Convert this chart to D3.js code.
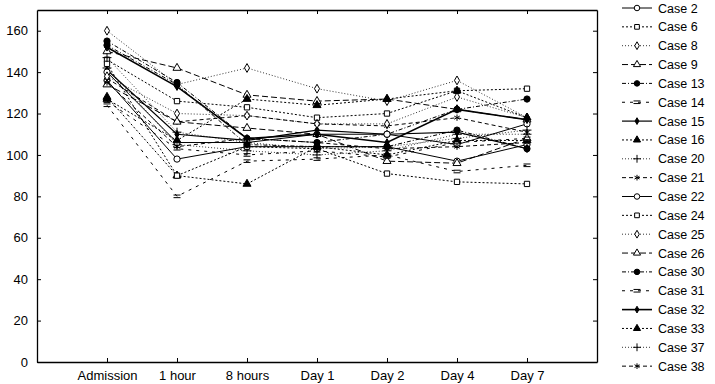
<!DOCTYPE html>
<html>
<head>
<meta charset="utf-8">
<script src="https://cdn.jsdelivr.net/npm/d3@7"></script>
<style>
  body { margin: 0; background: white; }
  text { font-family: "Liberation Sans", Arial, sans-serif; }
</style>
</head>
<body>
<script>
// categories on the x axis
const timepoints = ["Admission", "1 hour", "8 hours", "Day 1", "Day 2", "Day 4", "Day 7"]
const yTicks = [0, 20, 40, 60, 80, 100, 120, 140, 160]

// case names, same order as the legend
const cases = ["Case 2", "Case 6", "Case 8", "Case 9", "Case 13", "Case 14", "Case 15", "Case 16", "Case 20", "Case 21",
               "Case 22", "Case 24", "Case 25", "Case 26", "Case 30", "Case 31", "Case 32", "Case 33", "Case 37", "Case 38"]

// values per case
const case2  = [136, 98, 104, 104, 104, 97, 105]
const case6  = [146, 126, 123, 118, 120, 131, 132]
const case8  = [160, 134, 142, 132, 126, 136, 118]
const case9  = [150, 142, 129, 126, 127, 122, 117]
const case13 = [155, 135, 108, 106, 110, 122, 127]
const case14 = [124, 80, 97, 98, 100, 92, 95]
const case15 = [141, 110, 107, 112, 110, 111, 103]
const case16 = [128, 90, 86, 104, 100, 107, 107]
const case20 = [142, 105, 102, 100, 102, 110, 110]
const case21 = [137, 116, 119, 115, 114, 118, 111]
const case22 = [140, 106, 106, 110, 110, 105, 115]
const case24 = [144, 90, 104, 103, 91, 87, 86]
const case25 = [138, 120, 119, 115, 115, 128, 118]
const case26 = [134, 116, 113, 110, 97, 96, 108]
const case30 = [153, 134, 105, 104, 104, 112, 103]
const case31 = [126, 103, 100, 102, 99, 106, 108]
const case32 = [152, 133, 108, 110, 106, 122, 117]
const case33 = [127, 107, 127, 124, 127, 131, 118]
const case37 = [147, 111, 106, 103, 104, 108, 112]
const case38 = [135, 104, 108, 106, 103, 104, 106]

const allValues = [case2, case6, case8, case9, case13, case14, case15, case16, case20, case21,
                   case22, case24, case25, case26, case30, case31, case32, case33, case37, case38]

const w = 715
const h = 384
const padL = 37, padR = 597, padT = 10, padB = 362

// line / marker look, repeats every 10 cases
const styles = [
  {dash: null,  marker: "circle",   fill: "white", lw: 1},
  {dash: "2,2", marker: "square",   fill: "white", lw: 1},
  {dash: "1,2", marker: "diamond",  fill: "white", lw: 0.8},
  {dash: "6,3", marker: "triangle", fill: "white", lw: 1},
  {dash: "4,2,1,2", marker: "circle", fill: "black", lw: 1},
  {dash: "3,5", marker: "equal",    fill: "none",  lw: 1},
  {dash: null,  marker: "sdiamond", fill: "black", lw: 1.2},
  {dash: "2,2", marker: "triangle", fill: "black", lw: 1},
  {dash: "1,2", marker: "plus",     fill: "none",  lw: 0.8},
  {dash: "4,3", marker: "asterisk", fill: "none",  lw: 1}
]

const svg = d3.select("body")
              .append("svg")
              .attr("width", w)
              .attr("height", h)
              .style("background-color", "white")

const xScale = d3.scalePoint()
                 .domain(timepoints)
                 .range([padL, padR])
                 .padding(1)

const yScale = d3.scaleLinear()
                 .domain([0, 170])
                 .range([padB, padT])

// axes, ticks point inward and are mirrored on top / right
svg.append("g")
   .attr("transform", "translate(0," + padB + ")")
   .call(d3.axisBottom(xScale).tickSizeInner(-4).tickSizeOuter(0).tickPadding(9))
svg.append("g")
   .attr("transform", "translate(0," + padT + ")")
   .call(d3.axisTop(xScale).tickSizeInner(-4).tickSizeOuter(0).tickFormat(""))
svg.append("g")
   .attr("transform", "translate(" + padL + ",0)")
   .call(d3.axisLeft(yScale).tickValues(yTicks).tickSizeInner(-4).tickSizeOuter(0).tickPadding(9))
svg.append("g")
   .attr("transform", "translate(" + padR + ",0)")
   .call(d3.axisRight(yScale).tickValues(yTicks).tickSizeInner(-4).tickSizeOuter(0).tickFormat(""))

svg.selectAll(".domain").attr("stroke", "black").attr("stroke-width", 1.3)
svg.selectAll(".tick line").attr("stroke", "black")
svg.selectAll(".tick text").attr("font-size", 13).attr("fill", "black")
   .attr("font-family", "Liberation Sans, Arial, sans-serif")

function markerPath(kind, size) {
  if (kind === "circle") return d3.symbol(d3.symbolCircle, size * 1.1)()
  if (kind === "square") return d3.symbol(d3.symbolSquare, size)()
  if (kind === "diamond") return d3.symbol(d3.symbolDiamond, size * 0.8)()
  if (kind === "sdiamond") return d3.symbol(d3.symbolDiamond, size * 0.6)()
  if (kind === "triangle") return d3.symbol(d3.symbolTriangle, size)()
  if (kind === "plus") return d3.symbol(d3.symbolPlus, size)()
  if (kind === "asterisk") return d3.symbol(d3.symbolAsterisk, size)()
  if (kind === "equal") return "M-3.5,-1.3H3.5M-3.5,1.3H3.5"
}

const line = d3.line()
               .x((d, i) => xScale(timepoints[i]))
               .y((d) => yScale(d))

allValues.forEach((vals, k) => {
  const st = styles[k % 10]
  const g = svg.append("g")
  const lw = cases[k] === "Case 32" ? 1.6 : st.lw
  g.append("path")
   .datum(vals)
   .attr("d", line)
   .attr("fill", "none")
   .attr("stroke", "black")
   .attr("stroke-width", lw)
   .attr("stroke-dasharray", st.dash)

  g.selectAll("path.mk")
   .data(vals)
   .enter()
   .append("path")
   .attr("class", "mk")
   .attr("transform", (d, i) => "translate(" + xScale(timepoints[i]) + "," + yScale(d) + ")")
   .attr("d", markerPath(st.marker, 28))
   .attr("fill", st.fill)
   .attr("stroke", "black")
   .attr("stroke-width", 1)
})

// legend
const legend = svg.selectAll("g.legend")
                  .data(cases)
                  .enter()
                  .append("g")
                  .attr("class", "legend")
                  .attr("transform", (d, i) => "translate(622," + (8 + i * 18.85) + ")")

legend.append("line")
      .attr("x1", 0).attr("x2", 30)
      .attr("stroke", "black")
      .attr("stroke-width", (d, i) => d === "Case 32" ? 1.6 : styles[i % 10].lw)
      .attr("stroke-dasharray", (d, i) => styles[i % 10].dash)

legend.append("path")
      .attr("transform", "translate(15,0)")
      .attr("d", (d, i) => markerPath(styles[i % 10].marker, 22))
      .attr("fill", (d, i) => styles[i % 10].fill)
      .attr("stroke", "black")

legend.append("text")
      .attr("x", 36)
      .attr("y", 4.5)
      .attr("font-size", 12.5)
      .text((d) => d)
</script>
</body>
</html>
